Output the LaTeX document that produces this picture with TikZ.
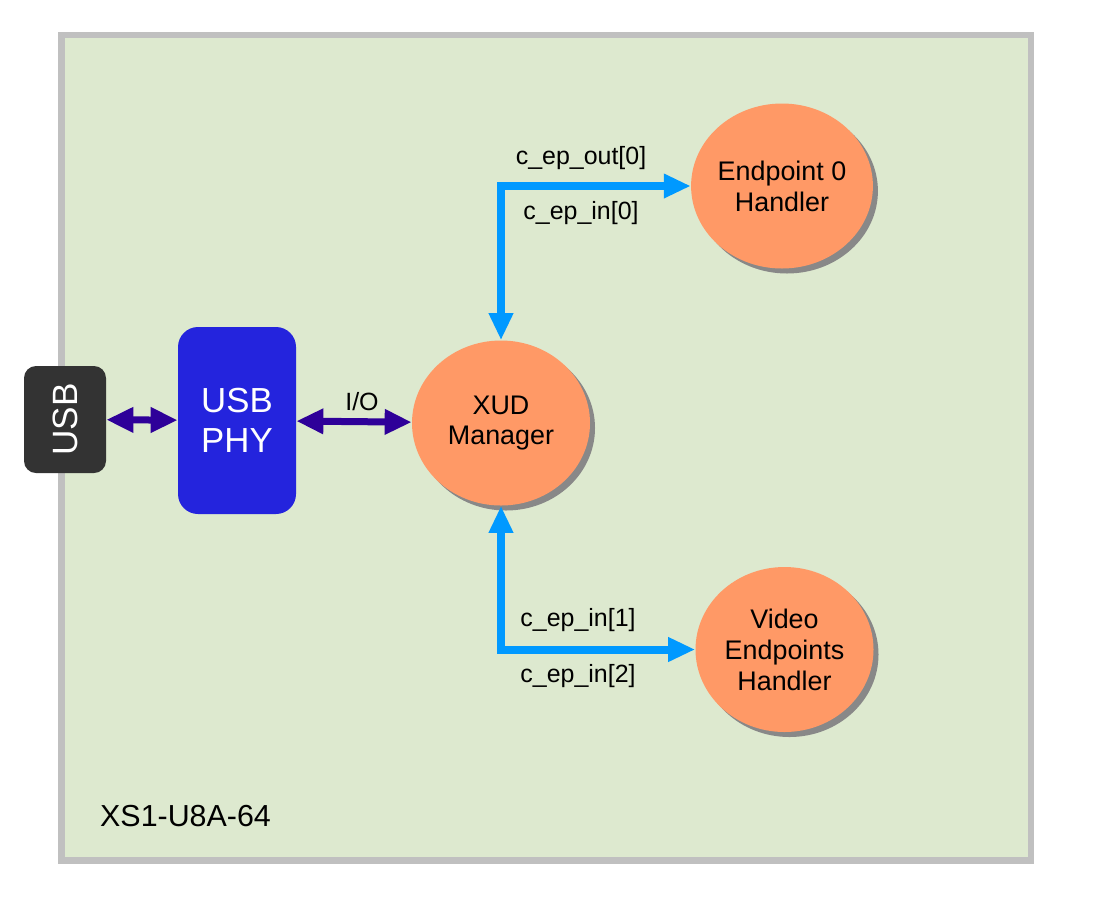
\documentclass[tikz,border=0pt]{standalone}
\usepackage{fontspec}
\setmainfont{Liberation Sans}
\usetikzlibrary{shapes.geometric, arrows.meta, shadows}
\definecolor{board_fill}{HTML}{DDE9CF}
\definecolor{board_edge}{HTML}{C0C0C0}
\definecolor{usb_grey}{HTML}{333333}
\definecolor{phy_blue}{HTML}{2424DD}
\definecolor{task_orange}{HTML}{FF9966}
\definecolor{shadow_grey}{HTML}{888888}
\definecolor{io_purple}{HTML}{2E0099}
\definecolor{chan_blue}{HTML}{0099FF}
\tikzset{
    board/.style={draw=board_edge, line width=0.13cm, fill=board_fill},
    port/.style={rectangle, rounded corners=0.24cm, fill=usb_grey, text=white, minimum width=1.64cm, minimum height=2.14cm, font=\fontsize{20}{24}\selectfont},
    phy/.style={rectangle, rounded corners=0.4cm, fill=phy_blue, text=white, align=center, minimum width=2.36cm, minimum height=3.74cm, font=\fontsize{19.8}{22.7}\selectfont},
    task/.style={ellipse, fill=task_orange, align=center, inner sep=0pt, minimum width=3.56cm, minimum height=3.3cm, font=\fontsize{15.3}{17.6}\selectfont, drop shadow={shadow xshift=0.1cm, shadow yshift=-0.1cm, fill=shadow_grey, opacity=1}},
    lbl/.style={font=\fontsize{14.2}{17}\selectfont},
    io/.style={line width=0.14cm, draw=io_purple, {Triangle[length=0.54cm, width=0.48cm]}-{Triangle[length=0.54cm, width=0.48cm]}},
    chan/.style={line width=0.16cm, draw=chan_blue, {Triangle[length=0.54cm, width=0.46cm]}-{Triangle[length=0.54cm, width=0.46cm]}}
}

\begin{document}
\begin{tikzpicture}
        \useasboundingbox (0, 0) rectangle (22.06, -18.12);
        \draw[board] (1.23, -0.70) rectangle (20.62, -17.21);
        \node (chip_label) [anchor=west, font=\fontsize{17.3}{20}\selectfont] at (1.88, -16.32) {XS1-U8A-64};

        \node (usb) [port] at (1.30, -8.39) {\rotatebox{90}{USB}};
        \node (phy) [phy] at (4.74, -8.41) {USB\\PHY};

        \node (xud) [task] at (10.02, -8.46) {XUD\\Manager};
        \node (ep0) [task] at (15.64, -3.72) {Endpoint 0\\Handler};
        \node (video) [task] at (15.69, -12.99) {Video\\Endpoints\\Handler};

        % Connect USB side
        \draw[io] (usb) -- (phy);
        \draw[io] (phy) -- (xud);
        \node (io_label) [lbl] at (7.24, -8.04) {I/O};

        % Channels
        \draw[chan] (xud.north) |- (ep0.west);
        \draw[chan] (xud.south) |- (video.west);
        \node (out0_label) [lbl] at (11.62, -3.16) {c\_ep\_out[0]};
        \node (in0_label) [lbl] at (11.62, -4.26) {c\_ep\_in[0]};
        \node (in1_label) [lbl] at (11.56, -12.40) {c\_ep\_in[1]};
        \node (in2_label) [lbl] at (11.56, -13.52) {c\_ep\_in[2]};

    \end{tikzpicture}
\end{document}
